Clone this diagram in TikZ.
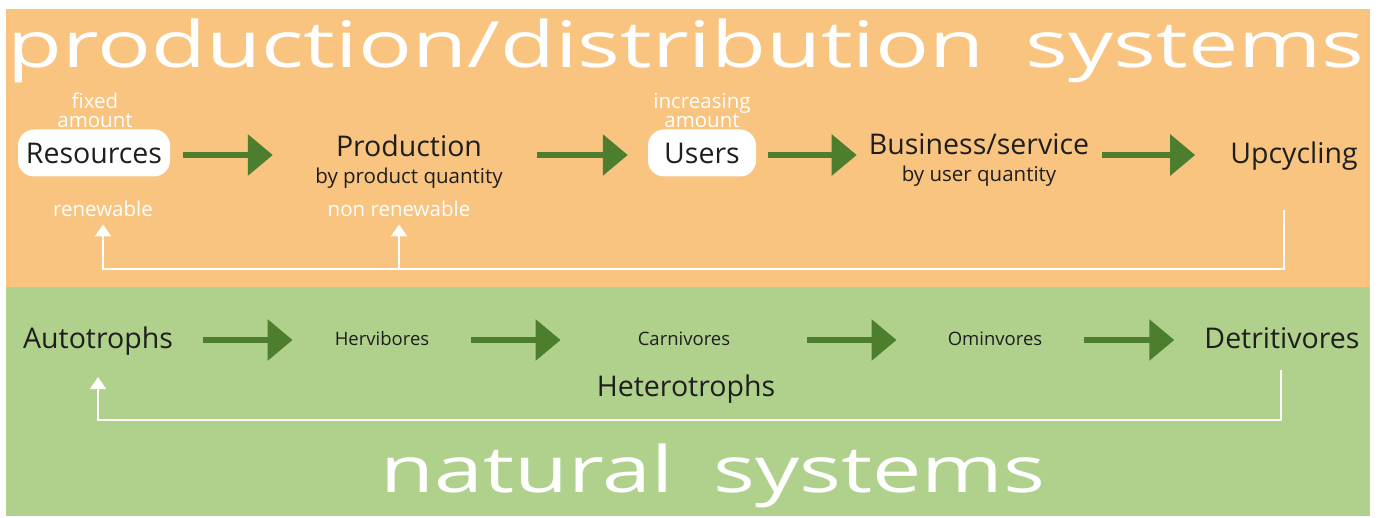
\documentclass[tikz,border=0pt]{standalone}
\usepackage{fontspec}
\setmainfont{Open Sans}
\usetikzlibrary{arrows.meta}
\definecolor{prodbg}{HTML}{F8C47F}
\definecolor{natbg}{HTML}{AFD18C}
\definecolor{flowgreen}{HTML}{4D7E2E}
\definecolor{ink}{HTML}{1E1E1E}
\begin{document}
\begin{tikzpicture}[x=1pt,y=-1pt,
    big/.style={text=ink,font=\fontsize{28.5}{30}\selectfont,inner sep=0pt},
    sub/.style={text=ink,font=\fontsize{20.5}{22}\selectfont,inner sep=0pt},
    small/.style={text=ink,font=\fontsize{18.5}{20}\selectfont,inner sep=0pt},
    note/.style={text=white,font=\fontsize{20.5}{19}\selectfont,align=center,inner sep=0pt},
    pill/.style={big,fill=white,rounded corners=16pt,minimum height=47pt},
    flow/.style={draw=flowgreen,line width=6pt,-{Triangle[length=25pt,width=40pt]}},
    fb/.style={draw=white,line width=2pt,-{Triangle[length=12pt,width=16pt]}},
    banner/.style={text=white,font=\fontsize{64}{66}\selectfont,inner sep=0pt,xscale=1.4}]
    \useasboundingbox (0,0) rectangle (1379,517);
    \fill[white] (0,0) rectangle (1379,517);
    \fill[prodbg] (6,9) rectangle (1370,287);
    \fill[natbg] (6,287) rectangle (1370,516);
    \node[banner,anchor=base] (title) at (686,67) {production/distribution\hspace{0.2em} systems};
    \node[banner,xscale=0.98,anchor=base] (natural) at (713,492) {natural\hspace{0.2em} systems};
    % top row
    \coordinate (row1) at (0,155);
    \coordinate (fbrow) at (0,269);
    \node[note,anchor=base] (fixed) at (95,127) {fixed\\amount};
    \node[note,anchor=base] (incr) at (702,127) {increasing\\amount};
    \node[pill,minimum width=152pt,anchor=base] (res) at (94,163) {Resources};
    \node[pill,minimum width=108pt,anchor=base] (users) at (702,163) {Users};
    \node[big,anchor=base] (prod) at (409,156) {Production};
    \node[sub,anchor=base] (prodq) at (409,183) {by product quantity};
    \node[big,anchor=base] (biz) at (979,154) {Business/service};
    \node[sub,anchor=base] (bizq) at (979,181) {by user quantity};
    \node[big,anchor=base] (upc) at (1294,163) {Upcycling};
    \node[note,anchor=base] (ren) at (103,216) {renewable};
    \node[note,anchor=base] (nonren) at (399,216) {non renewable};
    \draw[flow,shorten <=13pt,shorten >=63pt] (res.east |- row1) -- (prod.west |- row1);
    \draw[flow,shorten <=55pt,shorten >=20pt] (prod.east |- row1) -- (users.west |- row1);
    \draw[flow,shorten <=12pt,shorten >=12pt] (users.east |- row1) -- (biz.west |- row1);
    \draw[flow,shorten <=13pt,shorten >=35pt] (biz.east |- row1) -- (upc.west |- row1);
    \coordinate (upcfb) at (1284,210);
    \draw[fb,shorten >=8pt] (upcfb) -- (upcfb |- fbrow) -| (ren.south);
    \draw[fb,shorten >=8pt] (nonren.south |- fbrow) -- (nonren.south);
    % bottom row
    \coordinate (row2) at (0,340);
    \coordinate (fbrow2) at (0,420);
    \node[big,anchor=base] (auto) at (98,348) {Autotrophs};
    \node[small,anchor=base] (herb) at (382,345) {Hervibores};
    \node[small,anchor=base] (carn) at (684,345) {Carnivores};
    \node[small,anchor=base] (omni) at (995,345) {Ominvores};
    \node[big,anchor=base] (detr) at (1282,348) {Detritivores};
    \node[big,anchor=base] (hetero) at (686,396) {Heterotrophs};
    \draw[flow,shorten <=30pt,shorten >=42pt] (auto.east |- row2) -- (herb.west |- row2);
    \draw[flow,shorten <=42pt,shorten >=77pt] (herb.east |- row2) -- (carn.west |- row2);
    \draw[flow,shorten <=77pt,shorten >=51pt] (carn.east |- row2) -- (omni.west |- row2);
    \draw[flow,shorten <=42pt,shorten >=30pt] (omni.east |- row2) -- (detr.west |- row2);
    \coordinate (detfb) at (1281,370);
    \draw[fb,shorten >=22pt] (detfb) -- (detfb |- fbrow2) -| (auto.south);
\end{tikzpicture}
\end{document}
